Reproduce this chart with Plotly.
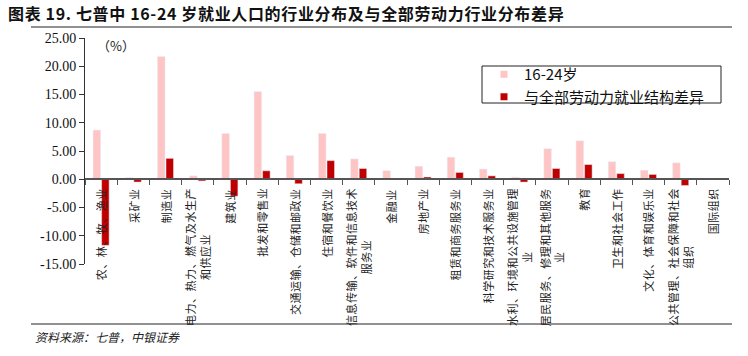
import plotly.graph_objects as go

industries = [
    "农、林、牧、渔业", "采矿业", "制造业", "电力、热力、燃气及水生产<br>和供应业", "建筑业",
    "批发和零售业", "交通运输、仓储和邮政业", "住宿和餐饮业", "信息传输、软件和信息技术<br>服务业",
    "金融业", "房地产业", "租赁和商务服务业", "科学研究和技术服务业",
    "水利、环境和公共设施管理<br>业", "居民服务、修理和其他服务<br>业", "教育", "卫生和社会工作",
    "文化、体育和娱乐业", "公共管理、社会保障和社会<br>组织", "国际组织",
]
share_16_24 = [8.7, 0.3, 21.7, 0.6, 8.1, 15.5, 4.2, 8.1, 3.6, 1.5, 2.3, 3.9, 1.8, 0.35, 5.4, 6.8, 3.1, 1.6, 2.9, 0.0]
diff_vs_all = [-11.7, -0.5, 3.7, -0.3, -3.0, 1.5, -0.8, 3.3, 1.9, 0.05, 0.4, 1.2, 0.6, -0.5, 1.9, 2.6, 1.0, 0.85, -1.1, 0.0]
series_names = ["16-24岁", "与全部劳动力就业结构差异"]
y_tickvals = [25, 20, 15, 10, 5, 0, -5, -10, -15]
y_ticktext = ["25.00", "20.00", "15.00", "10.00", "5.00", "0.00", "-5.00", "-10.00", "-15.00"]

PINK = "#FFC4C4"
DARK = "#C00000"
CJK = "Noto Sans CJK SC"
SERIF = "Liberation Serif"

W, H = 748, 356
ML, MR, MT, MB = 85, 19, 38, 92
PW, PH = W - ML - MR, H - MT - MB


def px(x):
    return (x - ML) / PW


def py(y):
    return (H - MB - y) / PH


def spaced(text, ls):
    return f'<span style="letter-spacing:{ls}px">{text}</span>'


fig = go.Figure()
fig.add_trace(go.Bar(x=industries, y=share_16_24, name=series_names[0], marker_color=PINK,
                     showlegend=False))
fig.add_trace(go.Bar(x=industries, y=diff_vs_all, name=series_names[1], marker_color=DARK,
                     showlegend=False))
for nm, col in zip(series_names, [PINK, DARK]):
    fig.add_trace(go.Scatter(x=[None], y=[None], mode="markers", name=nm,
                             marker=dict(symbol="square", size=7, color=col)))

ymin, ymax = -15, 25
zero_pos = (0 - ymin) / (ymax - ymin)

annotations = []
for name in industries:
    lab = "<br>".join(spaced(part, 0.5) for part in name.split("<br>"))
    annotations.append(dict(x=name, y=0, xref="x", yref="y", text=lab, showarrow=False,
                            textangle=-90, xanchor="center", yanchor="top", yshift=-7,
                            align="center", font=dict(family=CJK, size=11, color="#222")))
annotations.append(dict(x=px(95), y=py(45), xref="paper", yref="paper", text="（%）",
                        showarrow=False, xanchor="left", yanchor="middle",
                        font=dict(family=CJK, size=13, color="#222")))
annotations.append(dict(x=px(33), y=py(336), xref="paper", yref="paper",
                        text="<i>资料来源：七普，中银证券</i>", showarrow=False,
                        xanchor="left", yanchor="middle",
                        font=dict(family=CJK, size=12, color="#222")))

shapes = [
    dict(type="line", xref="paper", yref="paper", x0=px(31), x1=px(732), y0=py(27), y1=py(27),
         line=dict(color="#222", width=1)),
    dict(type="line", xref="paper", yref="paper", x0=px(31), x1=px(732), y0=py(324), y1=py(324),
         line=dict(color="#222", width=1)),
    dict(type="rect", xref="paper", yref="paper", x0=px(482), x1=px(721), y0=py(66), y1=py(103),
         line=dict(color="#222", width=1), fillcolor="rgba(0,0,0,0)"),
]

fig.update_layout(
    width=W, height=H,
    margin=dict(l=ML, r=MR, t=MT, b=MB),
    paper_bgcolor="white", plot_bgcolor="white",
    barmode="group", bargap=0.47, bargroupgap=0.12,
    title=dict(text="<b>" + spaced("图表 19. 七普中 16-24 岁就业人口的行业分布及与全部劳动力行业分布差异", 0.65) + "</b>",
               xref="container", yref="container", x=8 / W, xanchor="left",
               y=1 - 14 / H, yanchor="middle",
               font=dict(family=CJK, size=16, color="#111")),
    xaxis=dict(type="category", range=[-0.5, len(industries) - 0.5], anchor="free",
               position=zero_pos, showline=True, linecolor="#555", linewidth=1.5,
               ticks="outside", tickson="boundaries", ticklen=5, tickcolor="#555",
               showticklabels=False, showgrid=False, zeroline=False),
    yaxis=dict(range=[ymin, ymax], tickvals=y_tickvals, ticktext=y_ticktext,
               showline=True, linecolor="#333", linewidth=1, ticks="outside", ticklen=5,
               tickcolor="#333", showgrid=False, zeroline=False,
               tickfont=dict(family=SERIF, size=14, color="#111")),
    legend=dict(x=px(484), y=py(58), xanchor="left", yanchor="top",
                bgcolor="rgba(0,0,0,0)", borderwidth=0,
                font=dict(family=CJK, size=15, color="#111"), itemwidth=30),
    annotations=annotations,
    shapes=shapes,
)

fig.write_html("out.html", config={"displayModeBar": False},
               post_script="document.body.style.margin='0px';")
